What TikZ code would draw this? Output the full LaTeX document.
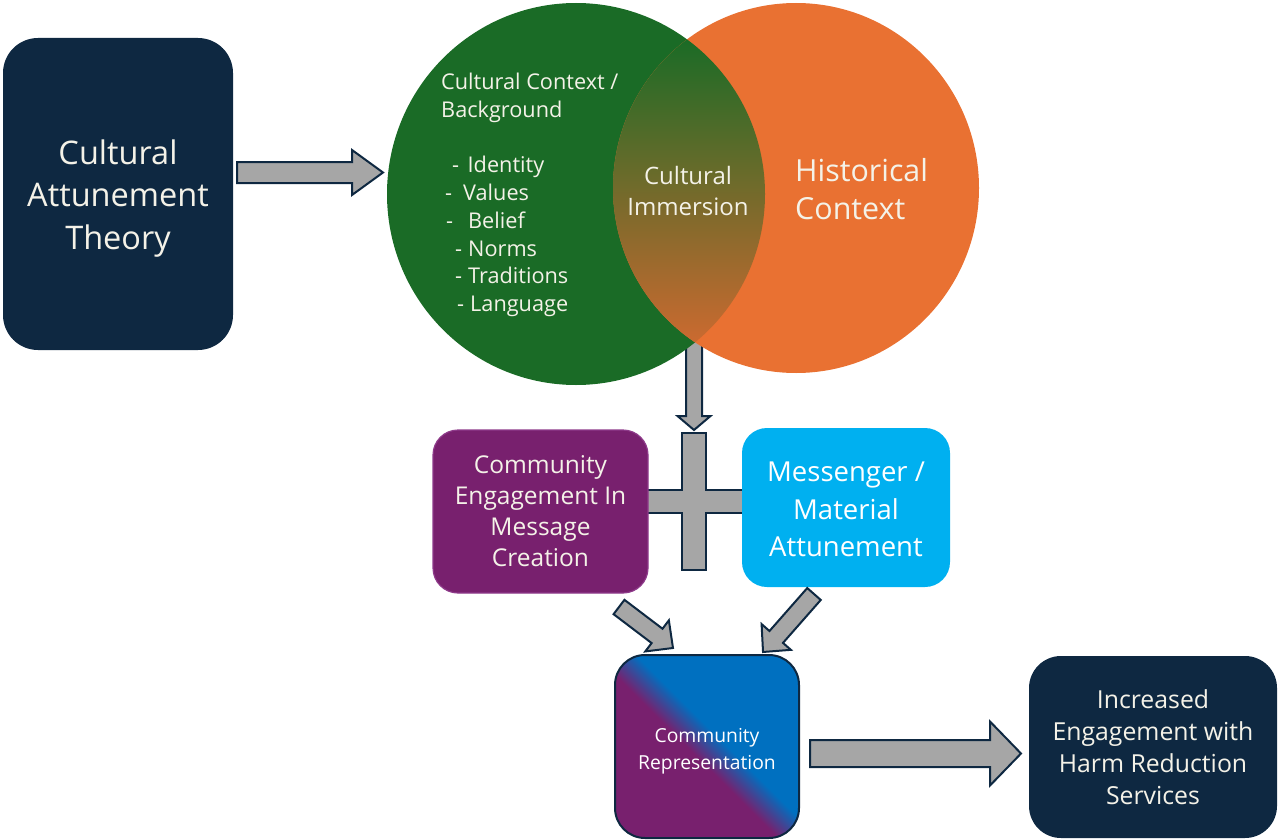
\documentclass[tikz,border=0pt]{standalone}
\usepackage{fontspec}
\setmainfont{Open Sans}
\usetikzlibrary{calc}

\definecolor{navy}{HTML}{0E2841}
\definecolor{ctxgreen}{HTML}{1A6B26}
\definecolor{historange}{HTML}{E97132}
\definecolor{lensbot}{HTML}{CB6A30}
\definecolor{engpurple}{HTML}{78206E}
\definecolor{engborder}{HTML}{8E3A8A}
\definecolor{msgblue}{HTML}{00B0F0}
\definecolor{reprblue}{HTML}{0070C0}
\definecolor{arrowgray}{HTML}{A6A6A6}
\definecolor{paletext}{HTML}{F4F2E8}

% purple to blue with a short blend across the diagonal
\pgfdeclarehorizontalshading{reprshade}{100bp}{color(0bp)=(engpurple); color(46bp)=(engpurple); color(54bp)=(reprblue); color(100bp)=(reprblue)}

% block arrow from #1 to #2: shaft half width #3, head half width #4, head length #5
\newcommand{\blockarrow}[5]{%
	\draw[blockarrow] let \p1=(#1), \p2=(#2),
		\n1={atan2(\y2-\y1,\x2-\x1)}, \n2={veclen(\x2-\x1,\y2-\y1)} in
		[shift={(\p1)}, rotate=\n1]
		(0pt,-#3pt) -- (\n2-#5pt,-#3pt) -- (\n2-#5pt,-#4pt) -- (\n2,0pt)
		-- (\n2-#5pt,#4pt) -- (\n2-#5pt,#3pt) -- (0pt,#3pt) -- cycle;}

\begin{document}
\begin{tikzpicture}[x=1pt, y=-1pt]
	
	\useasboundingbox (0,0) rectangle (1279,840);
	
	% box and arrow styles
	\tikzset{
		navybox/.style={fill=navy, text=paletext, align=center, inner sep=0pt},
		engbox/.style={fill=engpurple, draw=engborder, line width=1.2pt, text=paletext, align=center, inner sep=0pt},
		msgbox/.style={fill=msgblue, text=white, align=center, inner sep=0pt},
		reprbox/.style={draw=navy, line width=2pt, shade, shading=reprshade, shading angle=45, text=white, align=center, inner sep=0pt},
		blockarrow/.style={fill=arrowgray, draw=navy, line width=2pt, line join=miter}
	}
	
	% arrow ends
	\coordinate (theoryout) at (237,172.5);
	\coordinate (ctxin) at (383,172.5);
	\coordinate (lensout) at (694,320);
	\coordinate (plusin) at (694,430);
	
	% down arrow sits behind the circles
	\blockarrow{lensout}{plusin}{8}{16.5}{14}
	
	% the two circles
	\coordinate (ctx) at (576,194);
	\coordinate (hist) at (796,188);
	\fill[ctxgreen] (ctx) ellipse [x radius=189pt, y radius=191pt];
	\fill[historange] (hist) ellipse [x radius=183pt, y radius=185pt];
	
	% overlap of the circles
	\begin{scope}
		\clip (ctx) ellipse [x radius=189pt, y radius=191pt];
		\clip (hist) ellipse [x radius=183pt, y radius=185pt];
		\shade[top color=ctxgreen, bottom color=lensbot] (600,38) rectangle (790,343);
	\end{scope}
	
	% left box (strut on the first line pushes the text down a little)
	\node[navybox, rounded corners=35pt, minimum width=230pt, minimum height=312pt,
		font=\fontsize{32.5}{42.5}\selectfont] (theory) at (118,194)
		{\rule{0pt}{33pt}Cultural\\Attunement\\Theory};
	
	\blockarrow{theoryout}{ctxin}{10.5}{22.5}{31}
	
	% circle texts
	\node[text=paletext, anchor=west, align=left, inner sep=0pt,
		font=\fontsize{21.7}{27.7}\selectfont] (ctxlist) at (441,195)
		{Cultural Context /\\Background\\[27.7pt]
		\hspace*{11pt}-\hspace{8.5pt}Identity\\
		\hspace*{4pt}-\hspace{11pt}Values\\
		\hspace*{5pt}-\hspace{15pt}Belief\\
		\hspace*{14pt}-\hspace{6pt}Norms\\
		\hspace*{14pt}-\hspace{6pt}Traditions\\
		\hspace*{16pt}-\hspace{6pt}Language};
	\node[text=paletext, align=center, inner sep=0pt,
		font=\fontsize{24}{31}\selectfont] (immersion) at (688,191) {Cultural\\Immersion};
	\node[text=paletext, anchor=west, align=left, inner sep=0pt,
		font=\fontsize{30.4}{38}\selectfont] (histtext) at (795,189) {Historical\\Context};
	
	% plus sign between the two boxes
	\draw[blockarrow] (682,433) -- (706,433) -- (706,490) -- (745,490) -- (745,513)
		-- (706,513) -- (706,570) -- (682,570) -- (682,513) -- (645,513)
		-- (645,490) -- (682,490) -- cycle;
	
	% middle row
	\node[engbox, rounded corners=25pt, minimum width=215pt, minimum height=163pt,
		font=\fontsize{24.5}{31}\selectfont] (engage) at (540.5,511.5)
		{Community\\Engagement In\\Message\\Creation};
	\node[msgbox, rounded corners=25pt, minimum width=208pt, minimum height=159pt,
		font=\fontsize{27.5}{37.5}\selectfont] (messenger) at (846,507.5)
		{\rule{0pt}{24pt}Messenger /\\Material\\Attunement};
	
	% bottom row
	\node[reprbox, rounded corners=30pt, minimum width=184pt, minimum height=183pt,
		font=\fontsize{19.3}{27}\selectfont] (repr) at (707,746.5)
		{\rule{0pt}{24pt}Community\\Representation};
	\node[navybox, rounded corners=32pt, minimum width=248pt, minimum height=182pt,
		font=\fontsize{24.8}{32}\selectfont] (outcome) at (1153,747)
		{Increased\\Engagement with\\Harm Reduction\\Services};
	
	% arrows into and out of the bottom row
	\coordinate (engout) at (619,607);
	\coordinate (reprinl) at (673,648);
	\coordinate (msgout) at (814,594);
	\coordinate (reprinr) at (763,652);
	\coordinate (reprout) at (810,753.5);
	\coordinate (outcomein) at (1021,753.5);
	\blockarrow{engout}{reprinl}{9}{19.5}{20}
	\blockarrow{msgout}{reprinr}{9}{19.5}{20}
	\blockarrow{reprout}{outcomein}{13.5}{32}{31}
	
\end{tikzpicture}
\end{document}
